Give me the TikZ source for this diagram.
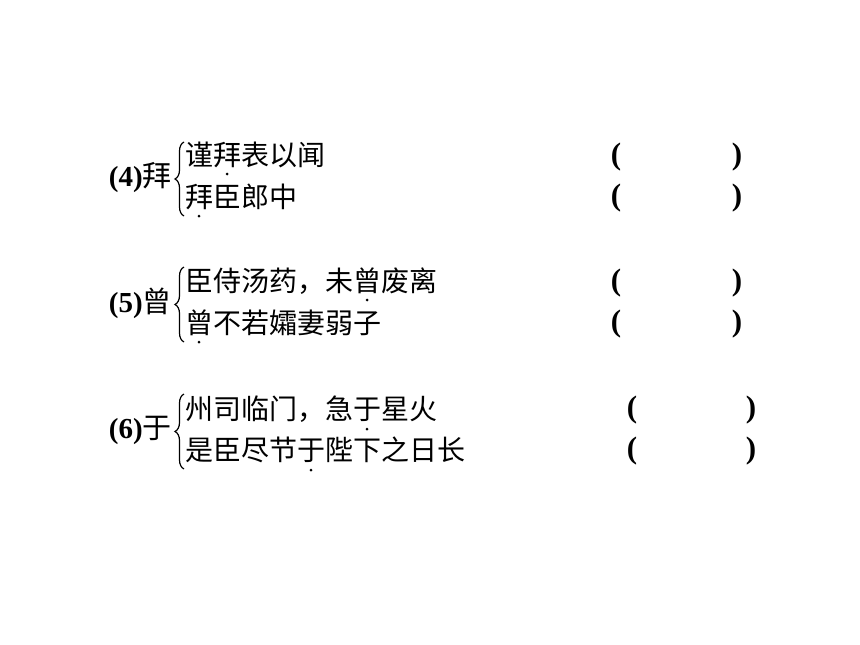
\documentclass[tikz,border=0pt]{standalone}
\usepackage{fontspec}
\setmainfont{Liberation Serif}
\newfontfamily\cjk{Noto Sans CJK SC}
\usetikzlibrary{decorations.pathreplacing}
\begin{document}
\begin{tikzpicture}[x=1pt,y=-1pt,
  line/.style={anchor=west,inner sep=0pt,font=\cjk\fontsize{28}{28}\selectfont},
  lab/.style={anchor=east,inner sep=0pt,font=\fontsize{29}{29}\selectfont},
  par/.style={inner sep=0pt,font=\bfseries\fontsize{31}{31}\selectfont},
  br/.style={decorate,decoration={brace,amplitude=9pt},line width=1.2pt},
  emph/.style={circle,fill=black,inner sep=0pt,minimum size=3pt}]
\useasboundingbox (0,0) rectangle (860,645);
% group 4
\node[lab] (l4) at (172,178) {\textbf{(4)}{\cjk 拜}};
\draw[br] (184,216) -- (184,142);
\node[line] (a1) at (185,155) {谨拜表以闻};
\node[line] (a2) at (185,197) {拜臣郎中};
\node[emph] (d1) at (227,174) {};
\node[emph] (d2) at (199,216) {};
\node[par] (p1) at (616,157) {(};
\node[par] (q1) at (737,157) {)};
\node[par] (p2) at (616,198) {(};
\node[par] (q2) at (737,198) {)};
% group 5
\node[lab] (l5) at (172,303) {\textbf{(5)}{\cjk 曾}};
\draw[br] (184,342) -- (184,267);
\node[line] (b1) at (185,281) {臣侍汤药，未曾废离};
\node[line] (b2) at (185,323) {曾不若孀妻弱子};
\node[emph] (d3) at (367,300) {};
\node[emph] (d4) at (199,342) {};
\node[par] (p3) at (616,283) {(};
\node[par] (q3) at (737,283) {)};
\node[par] (p4) at (616,324) {(};
\node[par] (q4) at (737,324) {)};
% group 6
\node[lab] (l6) at (172,430) {\textbf{(6)}{\cjk 于}};
\draw[br] (184,469) -- (184,394);
\node[line] (c1) at (185,409) {州司临门，急于星火};
\node[line] (c2) at (185,450) {是臣尽节于陛下之日长};
\node[emph] (d5) at (367,429) {};
\node[emph] (d6) at (311,470) {};
\node[par] (p5) at (632,410) {(};
\node[par] (q5) at (751,410) {)};
\node[par] (p6) at (632,451) {(};
\node[par] (q6) at (751,451) {)};
\end{tikzpicture}
\end{document}
